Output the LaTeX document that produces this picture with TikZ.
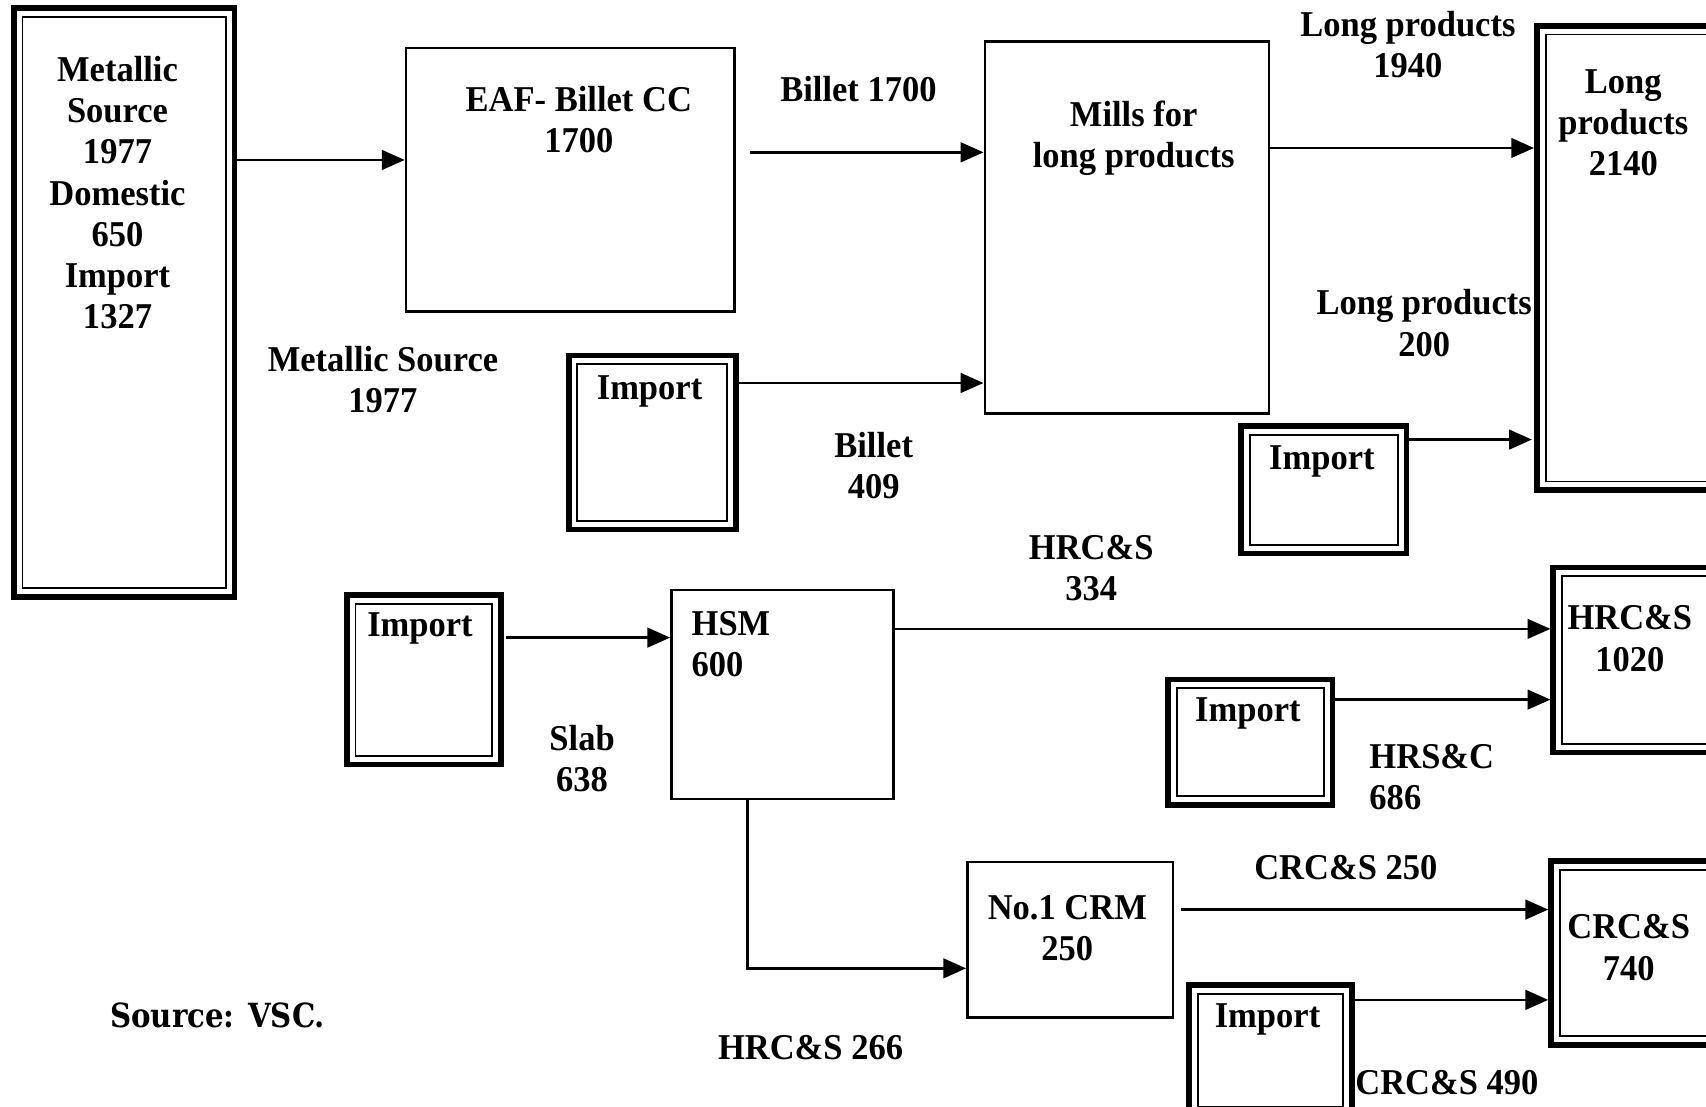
\documentclass[tikz,border=0pt]{standalone}
\usepackage{fontspec}
\setmainfont[BoldFeatures={FakeStretch=0.95}]{Liberation Serif}
\newfontfamily\srcfont[BoldFeatures={FakeStretch=0.88}]{DejaVu Serif}
\usetikzlibrary{arrows.meta,positioning}

\begin{document}
\begin{tikzpicture}[
  x=0.1mm, y=-0.1mm,
  box/.style={draw, line width=0.7pt, anchor=north west, inner sep=0pt},
  dbl/.style={box, line width=1.5pt, path picture={\draw[line width=0.5pt]
      ([shift={(2.3pt,-2.3pt)}]path picture bounding box.north west) rectangle
      ([shift={(-2.3pt,2.3pt)}]path picture bounding box.south east);}},
  txt/.style={font=\fontsize{9.5}{10.8}\selectfont\bfseries, align=center, inner sep=0pt},
  arrow/.style={-{Triangle[length=2.1mm,width=1.8mm]}, line width=0.7pt}
]
\useasboundingbox (0,0) rectangle (1568,1017);
\clip (0,0) rectangle (1568,1017);
% sources and plants
\node[dbl, minimum width=20.3mm, minimum height=54.1mm] (src) at (10,5) {};
\node[box, minimum width=30.2mm, minimum height=24.2mm] (eaf) at (372,43) {};
\node[box, minimum width=26.1mm, minimum height=34.2mm] (mills) at (904,37) {};
\node[box, minimum width=20.4mm, minimum height=19.2mm] (hsm) at (616,541) {};
\node[box, minimum width=18.9mm, minimum height=14.3mm] (crm) at (888,791) {};
% import boxes
\node[dbl, minimum width=15.4mm, minimum height=16.0mm] (imp1) at (520,324) {};
\node[dbl, minimum width=15.2mm, minimum height=11.7mm] (imp2) at (1138,389) {};
\node[dbl, minimum width=14.2mm, minimum height=15.6mm] (imp3) at (316,544) {};
\node[dbl, minimum width=15.1mm, minimum height=11.5mm] (imp4) at (1071,622) {};
\node[dbl, minimum width=15.0mm, minimum height=12.0mm] (imp5) at (1090,903) {};
% products (cut by the right edge)
\node[dbl, minimum width=16.5mm, minimum height=42.7mm] (longp) at (1410,21) {};
\node[dbl, minimum width=15.0mm, minimum height=17.0mm] (hrc) at (1425,519) {};
\node[dbl, minimum width=15.2mm, minimum height=16.9mm] (crc) at (1423,789) {};
% box texts
\node[txt] (srct) at (108,177) {Metallic\\Source\\1977\\Domestic\\650\\Import\\1327};
\node[txt] (eaft) at (532,110) {EAF- Billet CC\\1700};
\node[txt] (millst) at (1042,127) {Mills for\\long products};
\node[txt] (hsmt) [anchor=west, align=left] at (635,592) {HSM\\600};
\node[txt] (crmt) at (981,853) {No.1 CRM\\250};
\node[txt] (imp1t) at (597,360) {Import};
\node[txt] (imp2t) at (1215,424) {Import};
\node[txt] (imp3t) at (386,578) {Import};
\node[txt] (imp4t) at (1147,656) {Import};
\node[txt] (imp5t) at (1165,937) {Import};
\node[txt] (longpt) at (1492,113) {Long\\products\\2140};
\node[txt] (hrct) at (1498,587) {HRC\&S\\1020};
\node[txt] (crct) at (1497,871) {CRC\&S\\740};
% flows
\draw[arrow] (src.east |- 0,147) -- (eaf.west |- 0,147);
\draw[arrow, shorten <=1.3mm] (eaf.east |- 0,140) -- (mills.west |- 0,140);
\draw[arrow] (imp1.east |- 0,352) -- (mills.west |- 0,352);
\draw[arrow] (mills.east |- 0,136) -- (longp.west |- 0,136);
\draw[arrow, shorten >=0.2mm] (imp2.east |- 0,404) -- (longp.west |- 0,404);
\draw[arrow, shorten <=0.2mm] (imp3.east |- 0,586) -- (hsm.west |- 0,586);
\draw[arrow] (hsm.east |- 0,578) -- (hrc.west |- 0,578);
\draw[arrow] (imp4.east |- 0,643) -- (hrc.west |- 0,643);
\draw[arrow] (hsm.south -| 687,0) |- (crm.west |- 0,890);
\draw[arrow, shorten <=0.6mm] (crm.east |- 0,836) -- (crc.west |- 0,836);
\draw[arrow] (imp5.east |- 0,919) -- (crc.west |- 0,919);
% flow labels
\node[txt] (l1) at (352,349) {Metallic Source\\1977};
\node[txt] (l2) at (789,82) {Billet 1700};
\node[txt] (l3) at (803,428) {Billet\\409};
\node[txt] (l4) at (1294,41) {Long products\\1940};
\node[txt] (l5) at (1309,297) {Long products\\200};
\node[txt] (l6) at (1003,522) {HRC\&S\\334};
\node[txt] (l7) at (535,697) {Slab\\638};
\node[txt] (l8) [anchor=west, align=left] at (1258,714) {HRS\&C\\686};
\node[txt] (l9) at (745,963) {HRC\&S 266};
\node[txt] (l10) at (1237,797) {CRC\&S 250};
\node[txt] (l11) [anchor=west] at (1245,995) {CRC\&S 490};
\node[txt, font=\srcfont\fontsize{8.7}{10}\selectfont\bfseries] (srcnote) at (200,933) {Source: VSC.};
\end{tikzpicture}
\end{document}
